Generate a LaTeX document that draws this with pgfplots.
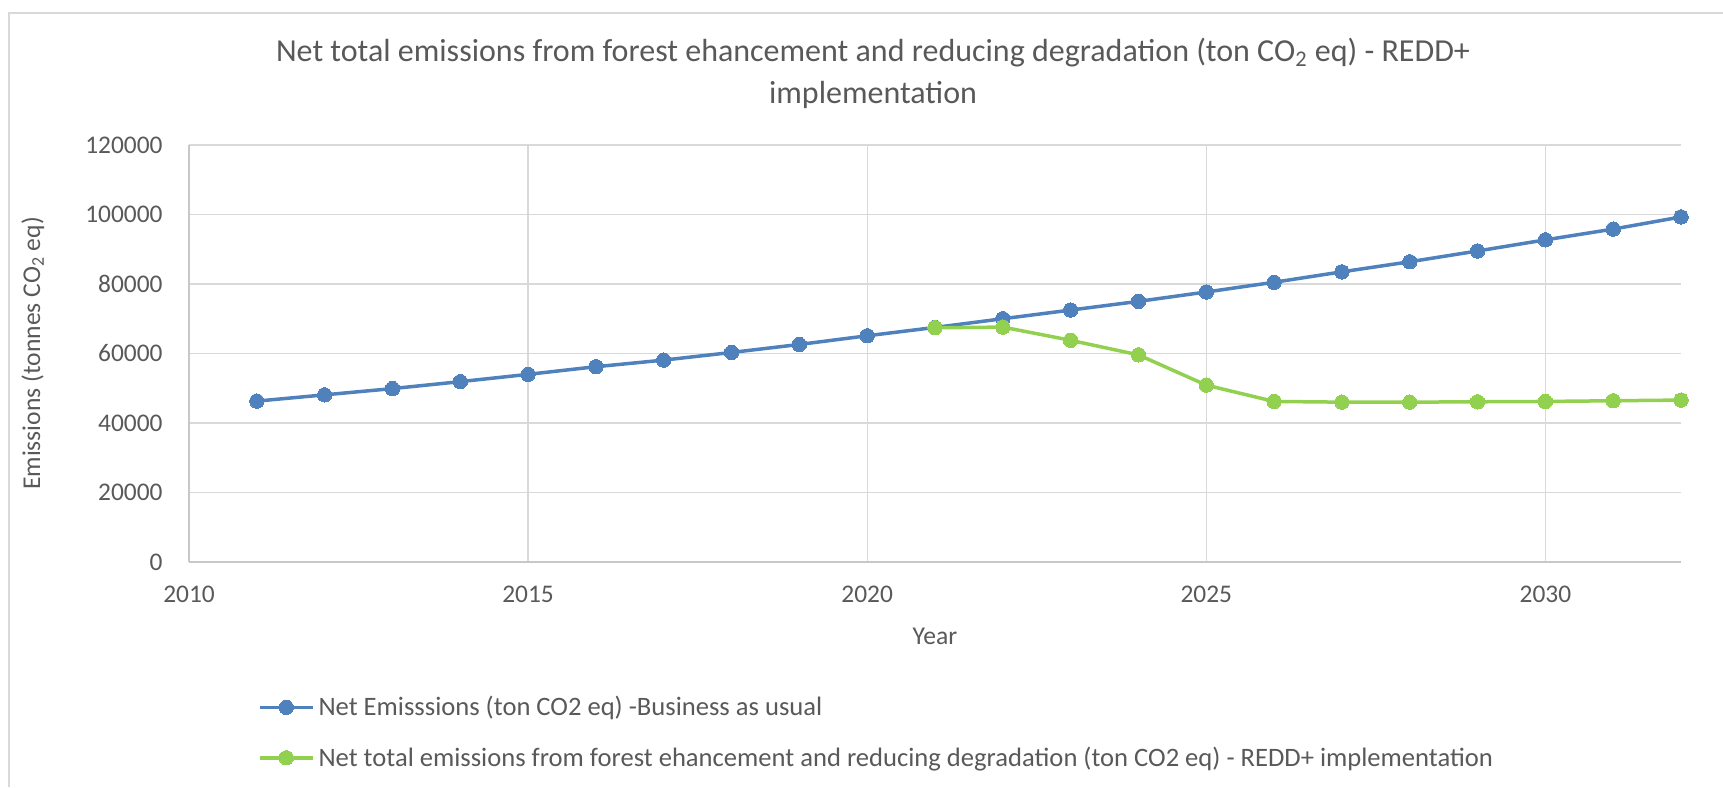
\documentclass[border=0pt]{standalone}
\usepackage{fontspec}
\setmainfont{Carlito}
\usepackage{pgfplots}
\pgfplotsset{compat=1.18}
\definecolor{bauBlue}{HTML}{4F81BD}
\definecolor{reddGreen}{HTML}{92D050}
\definecolor{gridGray}{HTML}{D9D9D9}
\definecolor{axisGray}{HTML}{C8C8C8}
\definecolor{txt}{HTML}{595959}
\begin{document}
\begin{tikzpicture}[x=0.5pt,y=0.5pt]
\useasboundingbox (0,0) rectangle (1723,787);
\draw[color=gridGray, line width=1pt] (9,0) -- (9,774) -- (1723,774);
\node[font=\fontsize{16}{21}\selectfont, text=txt, align=center] at (873,714) {Net total emissions from forest ehancement and reducing degradation (ton CO\textsubscript{2} eq) - REDD+\\implementation};
\begin{axis}[
  at={(94.5pt,112.5pt)}, anchor=south west,
  scale only axis, width=746pt, height=208.5pt,
  xmin=2010, xmax=2032, ymin=0, ymax=120000,
  xtick={2010,2015,2020,2025,2030},
  ytick={0,20000,40000,60000,80000,100000,120000},
  scaled y ticks=false, scaled x ticks=false,
  /pgf/number format/fixed,
  /pgf/number format/precision=0,
  /pgf/number format/1000 sep={},
  /pgf/number format/assume math mode=true,
  axis x line=bottom, axis y line=left,
  axis line style={draw=axisGray, line width=0.6pt, -},
  major tick length=0pt,
  grid=major,
  major grid style={draw=gridGray, line width=0.6pt},
  ticklabel style={font=\fontsize{12.7}{15}\selectfont, text=txt},
  yticklabel style={anchor=east, inner sep=0pt, xshift=-13pt},
  xticklabel style={anchor=center, inner sep=0pt, yshift=-16.25pt},
  xlabel={Year},
  ylabel={Emissions (tonnes CO\textsubscript{2} eq)},
  label style={font=\fontsize{12.8}{15}\selectfont, text=txt},
  xlabel style={at={(axis description cs:0.5,-0.1775)}, anchor=center},
  ylabel style={at={(axis description cs:-0.1046,0.5)}, anchor=center},
  clip=false,
  legend style={draw=none, fill=none, inner sep=0pt,
    at={(axis description cs:0.046,-0.311)}, anchor=north west,
    font=\fontsize{13.3}{16}\selectfont, text=txt,
    row sep=10pt,
    nodes={inner xsep=2pt}},
  legend cell align=left,
  legend image code/.code={\draw[mark repeat=2,mark phase=2,#1] plot coordinates {(0pt,0pt) (13.25pt,0pt) (26.5pt,0pt)};},
]
\addplot[color=bauBlue, line width=1.75pt, mark=*, mark size=3.6pt, mark options={fill=bauBlue, draw=bauBlue, line width=0pt}]
coordinates {
(2011,46300) (2012,48100) (2013,49900) (2014,51900) (2015,54000)
(2016,56200) (2017,58100) (2018,60300) (2019,62600) (2020,65100)
(2021,67500) (2022,70000) (2023,72500) (2024,75000) (2025,77700)
(2026,80500) (2027,83500) (2028,86400) (2029,89500) (2030,92700)
(2031,95800) (2032,99300)};
\addlegendentry{Net Emisssions (ton CO2 eq) -Business as usual}
\addplot[color=reddGreen, line width=1.75pt, mark=*, mark size=3.6pt, mark options={fill=reddGreen, draw=reddGreen, line width=0pt}]
coordinates {
(2021,67400) (2022,67600) (2023,63800) (2024,59600) (2025,50900)
(2026,46200) (2027,46000) (2028,46000) (2029,46100) (2030,46200)
(2031,46400) (2032,46600)};
\addlegendentry{Net total emissions from forest ehancement and reducing degradation (ton CO2 eq) - REDD+ implementation}
\end{axis}
\end{tikzpicture}
\end{document}
